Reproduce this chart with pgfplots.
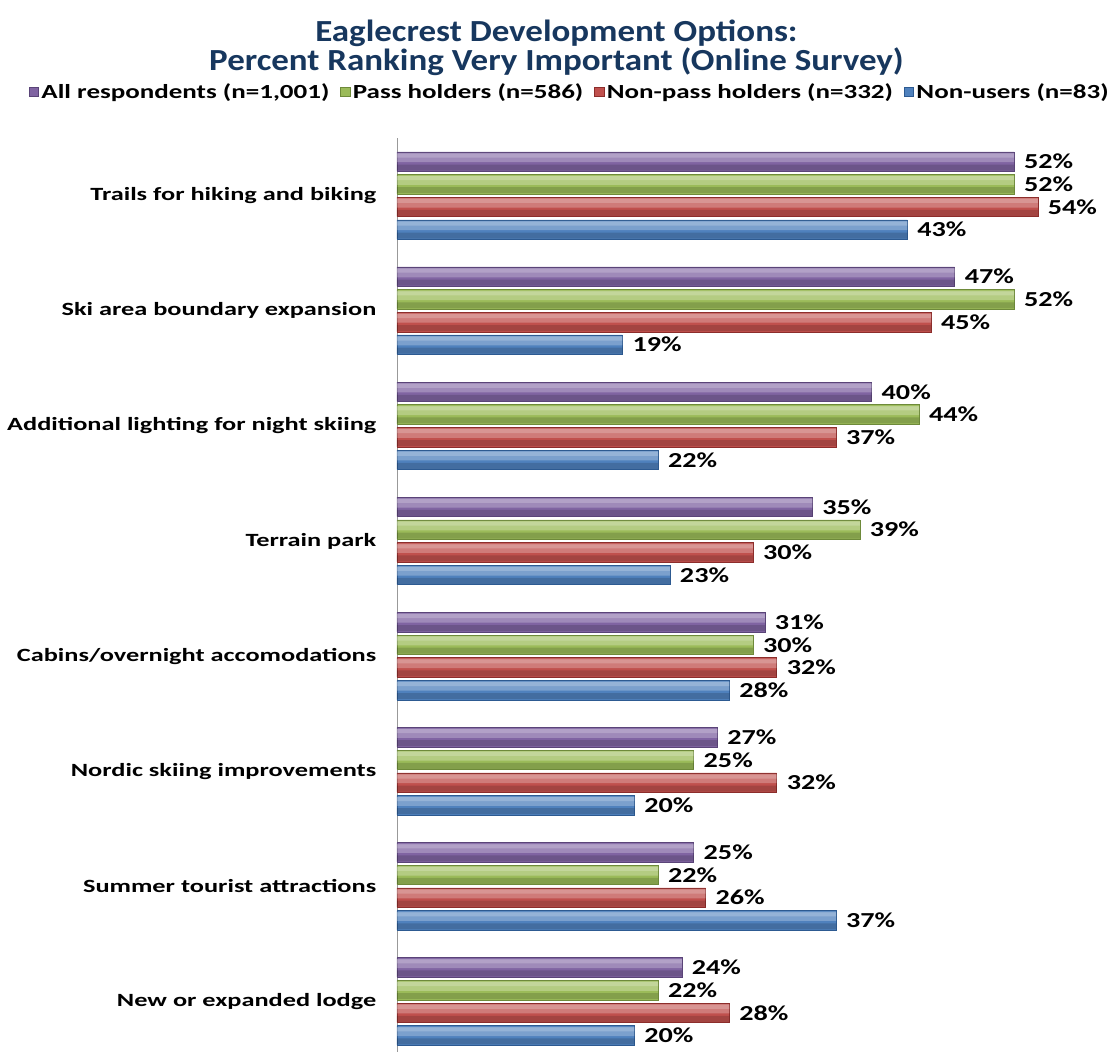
\documentclass[border=0pt]{standalone}
\usepackage{pgfplots}
\pgfplotsset{compat=1.18}
\usepackage{fontspec}
\setmainfont{Carlito}
\newfontfamily\lblfont{Carlito}[FakeStretch=1.41]
\newfontfamily\valfont{Carlito}[FakeStretch=1.32]
\newfontfamily\legfont{Carlito}[FakeStretch=1.35]
\newfontfamily\ttlfont{Carlito}[FakeStretch=1.14]
\definecolor{cPur}{RGB}{128,100,162}
\definecolor{cPurD}{RGB}{90,68,120}
\definecolor{cGre}{RGB}{155,187,89}
\definecolor{cGreD}{RGB}{110,138,58}
\definecolor{cRed}{RGB}{192,80,77}
\definecolor{cRedD}{RGB}{140,45,43}
\definecolor{cBlu}{RGB}{79,129,189}
\definecolor{cBluD}{RGB}{45,90,145}
\definecolor{titleblue}{RGB}{23,55,94}
\pgfplotsset{
  hiA/.style={forget plot, draw=none, fill=white, fill opacity=0.25, bar width=7pt},
  hiB/.style={forget plot, draw=none, fill=white, fill opacity=0.2, bar width=3pt},
  loA/.style={forget plot, draw=none, fill=black, fill opacity=0.15, bar width=4.5pt},
}
\begin{document}
\begin{tikzpicture}
\useasboundingbox (-297.75pt,6pt) rectangle (537pt,794.25pt);
\begin{axis}[
  at={(0,0)}, anchor=south west,
  scale only axis, width=534pt, height=690.75pt,
  xbar, bar width=14.6pt,
  xmin=0, xmax=60, ymin=-0.5, ymax=7.5, y dir=reverse,
  ytick={0,...,7},
  yticklabels={Trails for hiking and biking, Ski area boundary expansion, Additional lighting for night skiing, Terrain park, Cabins/overnight accomodations, Nordic skiing improvements, Summer tourist attractions, New or expanded lodge},
  yticklabel style={font=\lblfont\bfseries\fontsize{14}{16}\selectfont, xshift=-12pt},
  major tick length=0pt,
  axis x line=none, axis y line=left,
  y axis line style={-, draw=gray!80},
  point meta=x,
  /pgf/number format/assume math mode=true,
  nodes near coords style={font=\valfont\bfseries\fontsize{16}{18}\selectfont, anchor=west, xshift=4pt, text=black},
  legend columns=4,
  legend style={at={(0.243,1.05)}, anchor=center, draw=none, fill=none,
    font=\legfont\bfseries\fontsize{15}{17}\selectfont,
    /tikz/every even column/.append style={column sep=6pt}},
  legend image code/.code={\draw[#1] (0pt,-3.6pt) rectangle (7.2pt,3.6pt);},
  clip=false,
]
% All respondents
\addplot[draw=cPurD, fill=cPur, bar shift=25.5pt, nodes near coords={\pgfmathprintnumber{\pgfplotspointmeta}\%}] coordinates {(52,0) (47,1) (40,2) (35,3) (31,4) (27,5) (25,6) (24,7)};
\addplot[hiA, bar shift=28.5pt] coordinates {(52,0) (47,1) (40,2) (35,3) (31,4) (27,5) (25,6) (24,7)};
\addplot[hiB, bar shift=30pt] coordinates {(52,0) (47,1) (40,2) (35,3) (31,4) (27,5) (25,6) (24,7)};
\addplot[loA, bar shift=21pt] coordinates {(52,0) (47,1) (40,2) (35,3) (31,4) (27,5) (25,6) (24,7)};
% Pass holders
\addplot[draw=cGreD, fill=cGre, bar shift=8.5pt, nodes near coords={\pgfmathprintnumber{\pgfplotspointmeta}\%}] coordinates {(52,0) (52,1) (44,2) (39,3) (30,4) (25,5) (22,6) (22,7)};
\addplot[hiA, bar shift=11.5pt] coordinates {(52,0) (52,1) (44,2) (39,3) (30,4) (25,5) (22,6) (22,7)};
\addplot[hiB, bar shift=13pt] coordinates {(52,0) (52,1) (44,2) (39,3) (30,4) (25,5) (22,6) (22,7)};
\addplot[loA, bar shift=4pt] coordinates {(52,0) (52,1) (44,2) (39,3) (30,4) (25,5) (22,6) (22,7)};
% Non-pass holders
\addplot[draw=cRedD, fill=cRed, bar shift=-8.5pt, nodes near coords={\pgfmathprintnumber{\pgfplotspointmeta}\%}] coordinates {(54,0) (45,1) (37,2) (30,3) (32,4) (32,5) (26,6) (28,7)};
\addplot[hiA, bar shift=-5.5pt] coordinates {(54,0) (45,1) (37,2) (30,3) (32,4) (32,5) (26,6) (28,7)};
\addplot[hiB, bar shift=-4pt] coordinates {(54,0) (45,1) (37,2) (30,3) (32,4) (32,5) (26,6) (28,7)};
\addplot[loA, bar shift=-13pt] coordinates {(54,0) (45,1) (37,2) (30,3) (32,4) (32,5) (26,6) (28,7)};
% Non-users
\addplot[draw=cBluD, fill=cBlu, bar shift=-25.5pt, nodes near coords={\pgfmathprintnumber{\pgfplotspointmeta}\%}] coordinates {(43,0) (19,1) (22,2) (23,3) (28,4) (20,5) (37,6) (20,7)};
\addplot[hiA, bar shift=-22.5pt] coordinates {(43,0) (19,1) (22,2) (23,3) (28,4) (20,5) (37,6) (20,7)};
\addplot[hiB, bar shift=-21pt] coordinates {(43,0) (19,1) (22,2) (23,3) (28,4) (20,5) (37,6) (20,7)};
\addplot[loA, bar shift=-30pt] coordinates {(43,0) (19,1) (22,2) (23,3) (28,4) (20,5) (37,6) (20,7)};
\legend{{All respondents (n=1,001)}, {Pass holders (n=586)}, {Non-pass holders (n=332)}, {Non-users (n=83)}}
\node[font=\ttlfont\bfseries\fontsize{23}{22}\selectfont, text=titleblue, align=center] at (axis description cs:0.224,1.098) {Eaglecrest Development Options:\\Percent Ranking Very Important (Online Survey)};
\end{axis}
\end{tikzpicture}
\end{document}
